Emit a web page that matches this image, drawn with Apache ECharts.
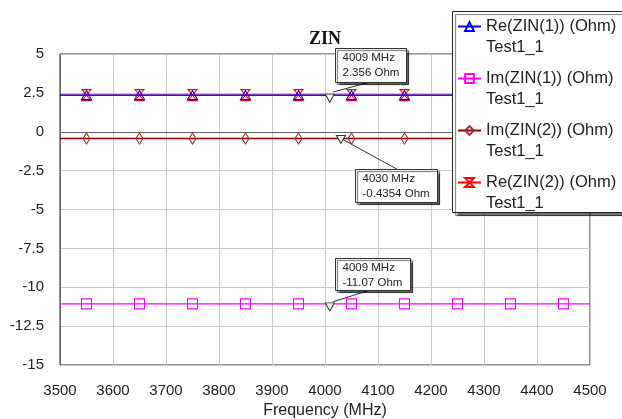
<!DOCTYPE html>
<html>
<head>
<meta charset="utf-8">
<script src="https://cdn.jsdelivr.net/npm/echarts@6/dist/echarts.min.js"></script>
<style>
  html, body { margin: 0; padding: 0; background: #fff; }
  #chart { width: 622px; height: 419px; }
</style>
</head>
<body>
<div id="chart"></div>
<script>
// Sweep frequencies (MHz)
const freqMHz = [3500, 3550, 3600, 3650, 3700, 3750, 3800, 3850, 3900, 3950, 4000,
                 4050, 4100, 4150, 4200, 4250, 4300, 4350, 4400, 4450, 4500];

// Input impedance traces (Ohm)
const reZin1 = [2.356, 2.356, 2.356, 2.356, 2.356, 2.356, 2.356, 2.356, 2.356, 2.356, 2.356,
                2.356, 2.356, 2.356, 2.356, 2.356, 2.356, 2.356, 2.356, 2.356, 2.356];
const imZin1 = [-11.07, -11.07, -11.07, -11.07, -11.07, -11.07, -11.07, -11.07, -11.07, -11.07, -11.07,
                -11.07, -11.07, -11.07, -11.07, -11.07, -11.07, -11.07, -11.07, -11.07, -11.07];
const imZin2 = [-0.4354, -0.4354, -0.4354, -0.4354, -0.4354, -0.4354, -0.4354, -0.4354, -0.4354, -0.4354, -0.4354,
                -0.4354, -0.4354, -0.4354, -0.4354, -0.4354, -0.4354, -0.4354, -0.4354, -0.4354, -0.4354];
const reZin2 = [2.356, 2.356, 2.356, 2.356, 2.356, 2.356, 2.356, 2.356, 2.356, 2.356, 2.356,
                2.356, 2.356, 2.356, 2.356, 2.356, 2.356, 2.356, 2.356, 2.356, 2.356];

const traceNames = ['Re(ZIN(1)) (Ohm)', 'Im(ZIN(1)) (Ohm)', 'Im(ZIN(2)) (Ohm)', 'Re(ZIN(2)) (Ohm)'];
const setupName = 'Test1_1';
const chartTitle = 'ZIN';
const xAxisName = 'Frequency (MHz)';

// Axis ranges
const xRange = [3500, 4500, 100];
const yRange = [-15, 5, 2.5];

// Data markers: frequency, value, and which trace they sit on
const markerFreq = [4009, 4030, 4009];
const markerValue = [2.356, -0.4354, -11.07];
const markerTrace = [0, 2, 1];

const FONT = '"Liberation Sans", Arial, sans-serif';
const HOURGLASS = 'path://M0,0L10,0L0,11L10,11Z';
const MARKER_TRI = 'path://M0,0L10,0L5,9Z';

const traceValues = [reZin1, imZin1, imZin2, reZin2];
const traceStyle = [
  { line: '#0000ff', sym: '#0000ff', symbol: 'triangle', size: [10, 9] },
  { line: '#ff00ff', sym: '#ff00ff', symbol: 'rect', size: [10, 10] },
  { line: '#8b0000', sym: '#a03030', symbol: 'diamond', size: [7, 11] },
  { line: '#ff0000', sym: '#ff0000', symbol: HOURGLASS, size: [9, 11] }
];
const markerOffset = [[0, 3], [0, 1], [0, 3]];

// Callout box layout relative to the marker pixel
const calloutLayout = [
  { dx: 5,  dy: -47, w: 71, h: 34, ax: 33, sx: 3, sy: -3, below: false },
  { dx: 14, dy: 30,  w: 82, h: 33, ax: 42, sx: 2, sy: 1,  below: true },
  { dx: 5,  dy: -46, w: 75, h: 32, ax: 33, sx: 3, sy: -2, below: false }
];

const chart = echarts.init(document.getElementById('chart'), null, { renderer: 'canvas' });

// Draw red first so the blue trace lies on top of it
const drawOrder = [3, 2, 1, 0];
const series = drawOrder.map(function (k) {
  const st = traceStyle[k];
  const vals = traceValues[k];
  const mk = [];
  markerTrace.forEach(function (t, i) {
    if (t === k) {
      mk.push({ coord: [markerFreq[i], markerValue[i]], symbolOffset: markerOffset[i] });
    }
  });
  return {
    name: traceNames[k],
    type: 'line',
    z: 2 + (3 - k) * 0.01,
    symbol: st.symbol,
    symbolSize: st.size,
    showAllSymbol: true,
    animation: false,
    lineStyle: { color: st.line, width: 1.3 },
    itemStyle: { color: 'rgba(255,255,255,0)', borderColor: st.sym, borderWidth: 1.1 },
    emphasis: { disabled: true },
    data: freqMHz.map(function (f, i) {
      return {
        value: [f, vals[i]],
        symbol: (f % 100 === 50) ? st.symbol : 'none'
      };
    }),
    markPoint: mk.length ? {
      symbol: MARKER_TRI,
      symbolSize: [9, 8],
      itemStyle: { color: '#f4f4f4', borderColor: '#333', borderWidth: 1 },
      label: { show: false },
      animation: false,
      data: mk
    } : undefined
  };
});

const option = {
  animation: false,
  backgroundColor: '#ffffff',
  title: {
    text: chartTitle,
    left: 325,
    top: 30,
    padding: 0,
    textAlign: 'center',
    textStyle: {
      fontFamily: '"Liberation Serif", "Times New Roman", serif',
      fontWeight: 'bold',
      fontSize: 18,
      color: '#111'
    }
  },
  grid: {
    left: 60, right: 32, top: 54, bottom: 54,
    show: true,
    borderColor: '#222',
    borderWidth: 1,
    containLabel: false,
    outerBoundsMode: 'none'
  },
  legend: {
    orient: 'vertical',
    left: 457,
    top: -5,
    padding: 0,
    itemWidth: 23,
    itemHeight: 11,
    itemGap: -11,
    data: traceNames,
    selectedMode: false,
    // a leading blank line keeps the icon level with the trace name
    formatter: function (name) { return '\n' + name + '\n' + setupName; },
    textStyle: {
      fontFamily: FONT,
      fontSize: 16.5,
      color: '#222',
      lineHeight: 21
    }
  },
  xAxis: {
    type: 'value',
    min: xRange[0],
    max: xRange[1],
    interval: xRange[2],
    name: xAxisName,
    nameLocation: 'middle',
    nameGap: 37,
    nameTextStyle: { fontFamily: FONT, fontSize: 16, color: '#222' },
    axisLine: { lineStyle: { color: '#666', width: 1 } },
    axisTick: { show: false },
    axisLabel: {
      fontFamily: FONT, fontSize: 15, color: '#222', margin: 18,
      formatter: function (v) { return String(v); }
    },
    splitLine: { show: true, lineStyle: { color: '#c8c8c8', width: 1 } }
  },
  yAxis: {
    type: 'value',
    min: yRange[0],
    max: yRange[1],
    interval: yRange[2],
    axisLine: { show: true, lineStyle: { color: '#666', width: 1 } },
    axisTick: { show: false },
    axisLabel: {
      fontFamily: FONT, fontSize: 15, color: '#222', margin: 16,
      padding: [5, 0, 0, 0],
      formatter: function (v) { return String(v); }
    },
    splitLine: { show: true, lineStyle: { color: '#c8c8c8', width: 1 } }
  },
  series: series
};

chart.setOption(option);

// Legend frame, callout boxes and leader lines placed from the axis scales
const graphics = [{
  type: 'rect',
  z: 3,
  shape: { x: 452.5, y: 11.5, width: 200, height: 201 },
  style: {
    fill: '#ffffff', stroke: '#222', lineWidth: 1,
    shadowColor: 'rgba(0,0,0,0.55)', shadowOffsetX: 3, shadowOffsetY: 3, shadowBlur: 1
  }
}];

markerFreq.forEach(function (f, i) {
  const p = chart.convertToPixel({ xAxisIndex: 0, yAxisIndex: 0 }, [f, markerValue[i]]);
  const c = calloutLayout[i];
  const bx = Math.round(p[0] + c.dx) + 0.5;
  const by = Math.round(p[1] + c.dy) + 0.5;
  graphics.push({
    type: 'line', z: 5,
    shape: { x1: p[0] + c.sx, y1: p[1] + c.sy, x2: bx + c.ax, y2: c.below ? by : by + c.h },
    style: { stroke: '#333', lineWidth: 1 }
  });
  graphics.push({
    type: 'rect', z: 6,
    shape: { x: bx, y: by, width: c.w, height: c.h },
    style: {
      fill: '#ffffff', stroke: '#333', lineWidth: 1,
      shadowColor: 'rgba(0,0,0,0.6)', shadowOffsetX: 2, shadowOffsetY: 2, shadowBlur: 1
    }
  });
  graphics.push({
    type: 'text', z: 7,
    x: bx + 7, y: by + 2,
    style: {
      text: f + ' MHz\n' + markerValue[i] + ' Ohm',
      font: '11.5px ' + FONT,
      fill: '#222',
      lineHeight: 15
    }
  });
});

chart.setOption({ graphic: graphics });
</script>
</body>
</html>
